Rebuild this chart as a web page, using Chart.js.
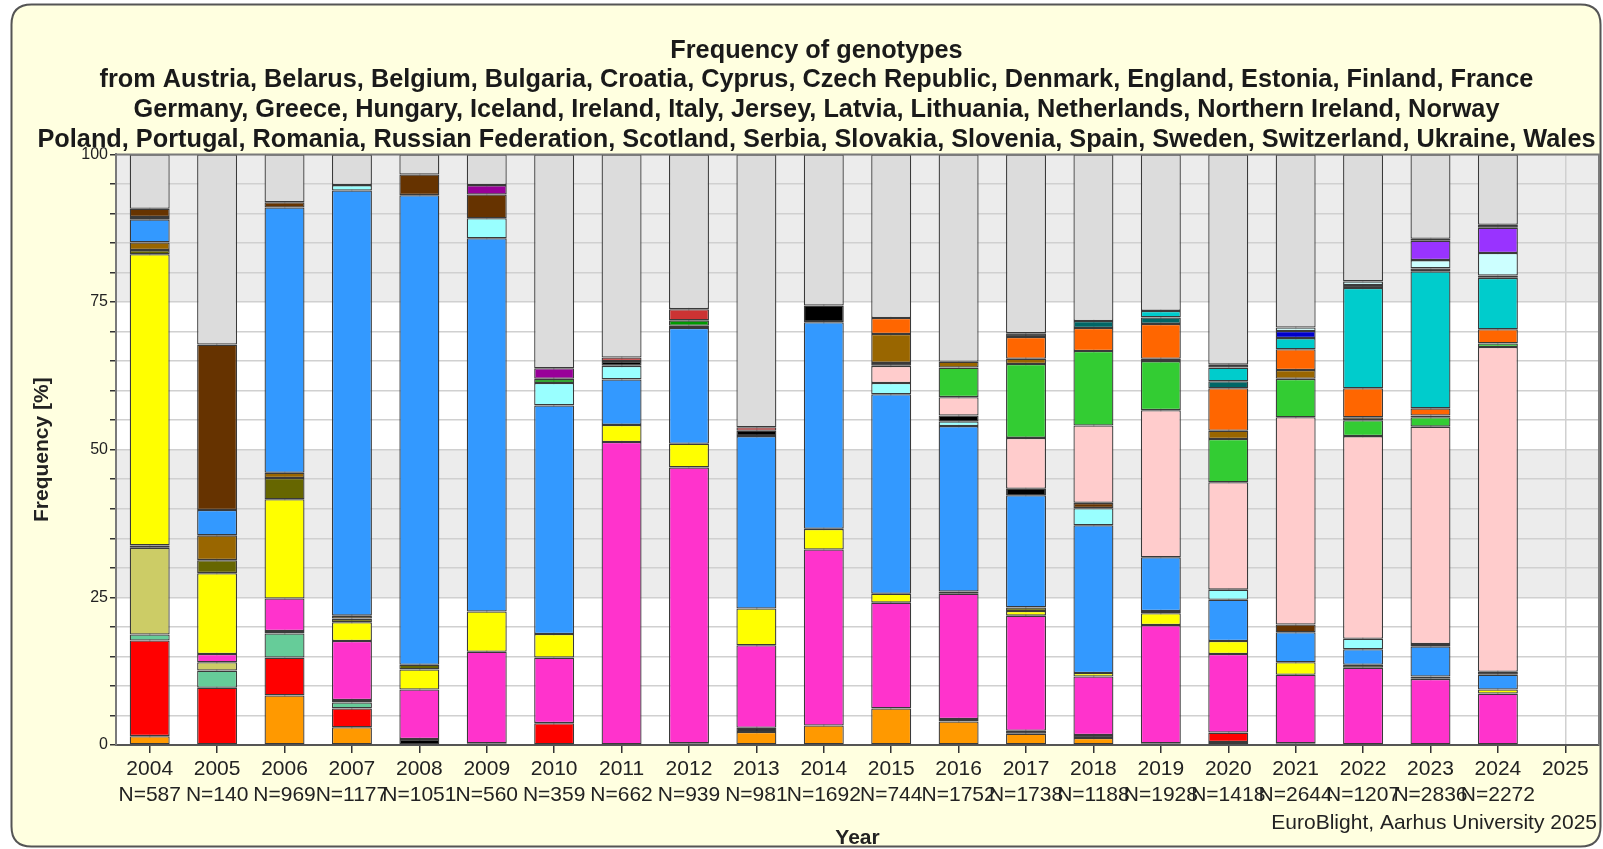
<!DOCTYPE html>
<html>
<head>
<meta charset="utf-8">
<script src="https://cdn.jsdelivr.net/npm/chart.js"></script>
<style>
html,body{margin:0;padding:0;background:#fff;overflow:hidden}
#wrap{position:absolute;left:0;top:0;width:1603px;height:849px}
</style>
</head>
<body>
<div id="wrap"><canvas id="c" width="1603" height="849"></canvas></div>
<script>
// ---------- categories ----------
const years = ["2004","2005","2006","2007","2008","2009","2010","2011","2012","2013","2014",
               "2015","2016","2017","2018","2019","2020","2021","2022","2023","2024","2025"];
const sampleSizes = ["N=587","N=140","N=969","N=1177","N=1051","N=560","N=359","N=662","N=939","N=981",
                     "N=1692","N=744","N=1752","N=1738","N=1188","N=1928","N=1418","N=2644","N=1207","N=2836","N=2272",""];
const yTickValues = [0,25,50,75,100];

// ---------- series values (% of samples, stacked bottom -> top), 2004..2025 ----------
const gOrange      = [1.5,0,8.4,3.0,0,0,0,0,0,2.2,3.3,6.2,4.0,1.9,1.2,0,0.5,0,0,0,0,null];
const gRed         = [16.2,9.7,6.4,3.2,0,0,3.7,0,0,0,0,0,0,0,0,0,1.6,0,0,0,0,null];
const gMint        = [1.0,2.9,4.1,1.0,0,0,0,0,0,0,0,0,0,0,0,0,0,0,0,0,0,null];
const gKhaki       = [14.7,1.4,0.4,0,0,0,0,0,0,0,0,0,0,0,0,0,0,0,0,0,0,null];
const gBlackLow    = [0.4,0,0,0.4,1.0,0.3,0,0,0.3,0.7,0,0,0.4,0.5,0.5,0.3,0,0.3,0,0,0,null];
const gMagenta     = [0,1.4,5.5,10.0,8.4,15.5,11.1,51.3,46.7,14.0,29.8,17.9,21.2,19.5,9.9,20.0,13.3,11.6,13.1,11.2,8.7,null];
const gYellow      = [49.3,13.7,16.8,3.2,3.4,6.8,4.0,2.9,4.0,6.2,3.5,1.5,0,0.8,0.6,2.0,2.2,2.1,0,0,0.7,null];
const gOlive       = [0.7,2.2,3.6,0.6,0.8,0,0,0,0,0,0,0,0.4,0.6,0,0.4,0,0,0.5,0.4,0,null];
const gBrownOrange = [1.3,4.2,0.9,0.5,0,0,0,0,0,0,0,0,0,0,0,0,0,0,0,0,0,null];
const gBlue        = [3.9,4.3,44.9,72.0,79.5,63.2,38.7,7.7,19.6,29.2,35.0,33.8,28.0,19.0,25.0,9.1,7.0,5.1,2.6,5.1,2.5,null];
const gLightCyan   = [0.4,0,0,0.9,0,3.4,3.8,2.3,0,0,0,1.9,0.8,0,2.9,0,1.7,0,1.8,0,0,null];
const gBlackMid    = [0,0,0,0,0,0,0,0.8,0.4,0.9,2.8,0,1.0,1.1,0,0,0,0,0,0.4,0.5,null];
const gDarkBrown   = [1.4,28.0,0.9,0,3.5,4.0,0,0,0,0,0,0,0,0,0.9,0,0,1.3,0,0,0,null];
const gGreenDark   = [0,0,0,0,0,0,0.7,0,0.9,0,0,0,0,0,0,0,0,0,0,0,0,null];
const gPurple      = [0,0,0,0,0,1.6,1.8,0,0,0,0,0,0,0,0,0,0,0,0,0,0,null];
const gFirebrick   = [0,0,0,0,0,0,0,0.6,1.9,0.6,0,0,0,0,0,0,0,0,0,0,0,null];
const gPink        = [0,0,0,0,0,0,0,0,0,0,0,2.9,3.1,8.6,13.1,24.9,18.2,35.1,34.3,36.8,55.0,null];
const gBlackUp     = [0,0,0,0,0,0,0,0,0,0,0,0.5,0,0,0,0,0,0,0,0,0,null];
const gGreen       = [0,0,0,0,0,0,0,0,0,0,0,0,5.0,12.5,12.6,8.3,7.3,6.5,2.7,1.6,0.6,null];
const gBrown       = [0,0,0,0,0,0,0,0,0,0,0,4.9,1.0,0.9,0,0.4,1.4,1.5,0.5,0.3,0,null];
const gOrangeRed   = [0,0,0,0,0,0,0,0,0,0,0,2.7,0,3.7,3.9,5.9,7.2,3.5,4.9,1.2,2.4,null];
const gTealDark    = [0,0,0,0,0,0,0,0,0,0,0,0,0,0,1.2,1.1,1.2,0,0,0,0,null];
const gCyan        = [0,0,0,0,0,0,0,0,0,0,0,0,0,0,0,1.1,2.3,1.9,17.0,23.2,8.7,null];
const gBlueDark    = [0,0,0,0,0,0,0,0,0,0,0,0,0,0,0,0,0,1.2,0,0,0,null];
const gBlackHigh   = [0,0,0,0,0,0,0,0,0,0,0,0,0,0,0,0,0,0,0.5,0.5,0.4,null];
const gPaleCyan    = [0,0,0,0,0,0,0,0,0,0,0,0,0,0,0,0,0,0.6,0.6,1.4,3.8,null];
const gViolet      = [0,0,0,0,0,0,0,0,0,0,0,0,0,0,0,0,0,0,0,3.3,4.3,null];
const gBlackTop    = [0,0,0,0,0,0,0,0,0,0,0,0,0,0.6,0,0,0.5,0,0,0.3,0.5,null];
const gOther       = [9.2,32.2,8.1,5.2,3.4,5.2,36.2,34.4,26.2,46.2,25.6,27.7,35.1,30.3,28.2,26.5,35.6,29.3,21.5,14.3,11.9,null];

const titleLines = [
  "Frequency of genotypes",
  "from Austria, Belarus, Belgium, Bulgaria, Croatia, Cyprus, Czech Republic, Denmark, England, Estonia, Finland, France",
  "Germany, Greece, Hungary, Iceland, Ireland, Italy, Jersey, Latvia, Lithuania, Netherlands, Northern Ireland, Norway",
  "Poland, Portugal, Romania, Russian Federation, Scotland, Serbia, Slovakia, Slovenia, Spain, Sweden, Switzerland, Ukraine, Wales"
];
const creditText = "EuroBlight, Aarhus University 2025";

// ---------- series table (built from the arrays above) ----------
const seriesTable = [
  ["orange", gOrange, "#ff9900"],
  ["red", gRed, "#ff0000"],
  ["mint", gMint, "#66cc99"],
  ["khaki", gKhaki, "#cccc66"],
  ["black (low)", gBlackLow, "#000000"],
  ["magenta", gMagenta, "#ff33cc"],
  ["yellow", gYellow, "#ffff00"],
  ["olive", gOlive, "#666600"],
  ["brown-orange", gBrownOrange, "#996600"],
  ["blue", gBlue, "#3399ff"],
  ["light cyan", gLightCyan, "#99ffff"],
  ["black (mid)", gBlackMid, "#000000"],
  ["dark brown", gDarkBrown, "#663300"],
  ["dark green", gGreenDark, "#009900"],
  ["purple", gPurple, "#990099"],
  ["firebrick", gFirebrick, "#cc3333"],
  ["light pink", gPink, "#ffcccc"],
  ["black (upper)", gBlackUp, "#000000"],
  ["green", gGreen, "#33cc33"],
  ["brown", gBrown, "#996600"],
  ["orange-red", gOrangeRed, "#ff6600"],
  ["dark teal", gTealDark, "#006666"],
  ["cyan", gCyan, "#00cccc"],
  ["dark blue", gBlueDark, "#0000cc"],
  ["black (high)", gBlackHigh, "#000000"],
  ["pale cyan", gPaleCyan, "#ccffff"],
  ["violet", gViolet, "#9933ff"],
  ["black (top)", gBlackTop, "#000000"],
  ["other", gOther, "#dcdcdc"]
];

const FONT = '"Liberation Sans", Arial, Helvetica, sans-serif';
const xLabels = years.map((y, i) => sampleSizes[i] ? [y, sampleSizes[i]] : [y]);

const decor = {
  id: 'decor',
  beforeDraw(chart) {
    const ctx = chart.ctx, a = chart.chartArea, ys = chart.scales.y;
    ctx.save();
    ctx.fillStyle = '#ffffff';
    ctx.fillRect(0, 0, chart.width, chart.height);
    // rounded card
    const x0 = 11.5, y0 = 4.5, w = 1589, h = 842, r = 20;
    ctx.beginPath();
    ctx.moveTo(x0 + r, y0);
    ctx.lineTo(x0 + w - r, y0);
    ctx.quadraticCurveTo(x0 + w, y0, x0 + w, y0 + r);
    ctx.lineTo(x0 + w, y0 + h - r);
    ctx.quadraticCurveTo(x0 + w, y0 + h, x0 + w - r, y0 + h);
    ctx.lineTo(x0 + r, y0 + h);
    ctx.quadraticCurveTo(x0, y0 + h, x0, y0 + h - r);
    ctx.lineTo(x0, y0 + r);
    ctx.quadraticCurveTo(x0, y0, x0 + r, y0);
    ctx.closePath();
    ctx.fillStyle = '#ffffe0';
    ctx.fill();
    ctx.lineWidth = 2;
    ctx.strokeStyle = '#555555';
    ctx.stroke();
    // plot background with alternating bands
    ctx.fillStyle = '#ffffff';
    ctx.fillRect(a.left, a.top, a.right - a.left, a.bottom - a.top);
    ctx.fillStyle = '#ececec';
    [[75, 100], [25, 50]].forEach(([lo, hi]) => {
      const t = ys.getPixelForValue(hi), b = ys.getPixelForValue(lo);
      ctx.fillRect(a.left, t, a.right - a.left, b - t);
    });
    ctx.restore();
  },
  afterDraw(chart) {
    const ctx = chart.ctx, a = chart.chartArea;
    ctx.save();
    ctx.strokeStyle = '#7a7a7a';
    ctx.lineWidth = 2;
    ctx.beginPath();
    ctx.moveTo(a.left, a.top);
    ctx.lineTo(a.right, a.top);
    ctx.lineTo(a.right, a.bottom);
    ctx.stroke();
    ctx.fillStyle = '#222';
    ctx.font = '21px ' + FONT;
    ctx.textAlign = 'right';
    ctx.textBaseline = 'middle';
    ctx.fillText(creditText, 1597, 823);
    ctx.restore();
  }
};

new Chart(document.getElementById('c'), {
  type: 'bar',
  data: {
    labels: xLabels,
    datasets: seriesTable.map(([name, values, color]) => ({
      label: name,
      data: values,
      backgroundColor: color,
      borderColor: '#3a3a3a',
      borderWidth: 1.3,
      borderSkipped: false,
      barPercentage: 0.593,
      categoryPercentage: 1.0
    }))
  },
  options: {
    responsive: false,
    animation: false,
    devicePixelRatio: 1,
    layout: { padding: { top: 36, left: 34, right: 4, bottom: 0 } },
    plugins: {
      legend: { display: false },
      tooltip: { enabled: false },
      title: {
        display: true,
        text: titleLines,
        color: '#1a1a1a',
        font: { family: FONT, size: 25.3, weight: 'bold', lineHeight: 1.17 },
        padding: { top: 0, bottom: 0 }
      }
    },
    scales: {
      x: {
        stacked: true,
        grid: { offset: false, color: '#d0d0d0', lineWidth: 1.5, tickColor: '#333', tickLength: 8, drawTicks: true },
        border: { display: true, color: '#555', width: 2 },
        ticks: { autoSkip: false, maxRotation: 0, minRotation: 0, padding: 3, color: '#222',
                 font: { family: FONT, size: 21, lineHeight: 1.24 } },
        title: { display: true, text: 'Year', color: '#222', font: { family: FONT, size: 21, weight: 'bold', lineHeight: 1.0 },
                 padding: { top: 0, bottom: 0 } },
        afterFit(s) { s.height = 104; }
      },
      y: {
        stacked: true,
        min: 0,
        max: 100,
        ticks: { stepSize: 5, padding: 2, color: '#222', font: { family: FONT, size: 16 },
                 callback: v => yTickValues.includes(v) ? String(v) : '' },
        grid: { color: '#d0d0d0', lineWidth: 1.5, tickColor: '#333', tickLength: 6 },
        border: { display: true, color: '#7a7a7a', width: 2 },
        title: { display: true, text: 'Frequency [%]', color: '#222',
                 font: { family: FONT, size: 21, weight: 'bold', lineHeight: 0.8 },
                 padding: { top: 0, bottom: 0 } },
        afterFit(s) { s.width = 82; }
      }
    }
  },
  plugins: [decor]
});
</script>
</body>
</html>
